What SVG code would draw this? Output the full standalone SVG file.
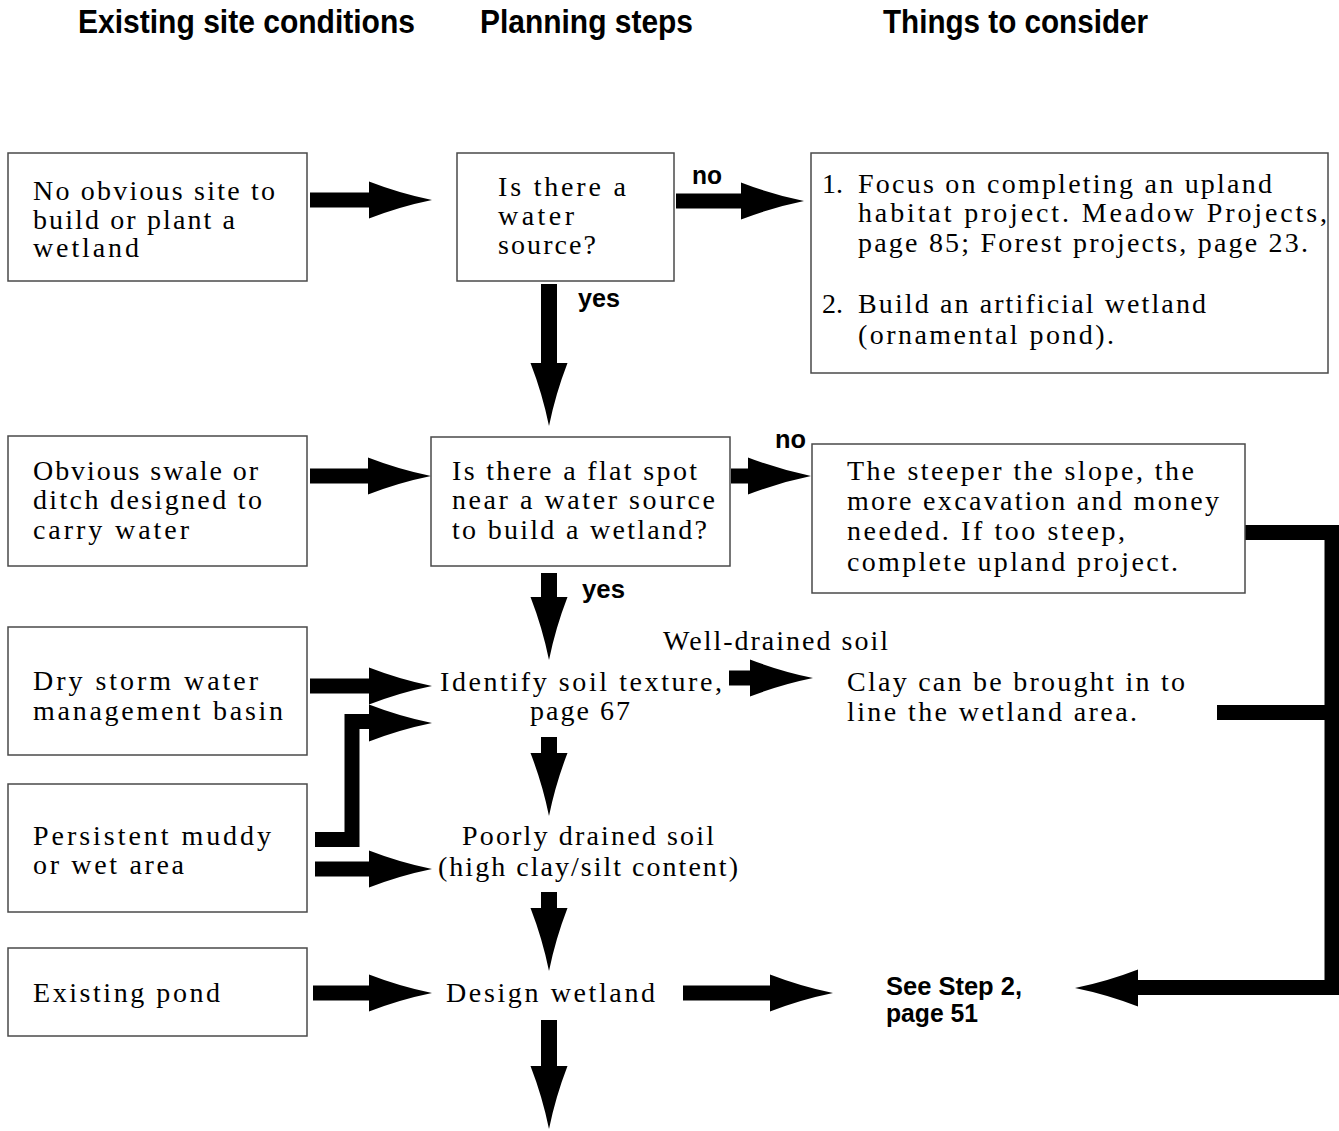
<svg xmlns="http://www.w3.org/2000/svg" width="1339" height="1131" viewBox="0 0 1339 1131">
<style>
.box{fill:#fff;stroke:#4a4a4a;stroke-width:1.5}
.t{font-family:"Liberation Serif","Times New Roman",serif;font-size:28px;fill:#000}
.h{font-family:"Liberation Sans",Arial,sans-serif;font-weight:bold;font-size:33px;fill:#000}
.b{font-family:"Liberation Sans",Arial,sans-serif;font-weight:bold;font-size:25px;fill:#000}
.ar{fill:#000}
.ln{fill:none;stroke:#000;stroke-width:15;stroke-linejoin:miter}
</style>
<defs>
<path id="hd" d="M0,-18.5 Q31,-6.5 63,0 Q31,6.5 0,18.5 Z"/>
</defs>
<rect width="1339" height="1131" fill="#fff"/>
<g id="headers">
<text class="h" x="78" y="33" textLength="337" lengthAdjust="spacingAndGlyphs">Existing site conditions</text>
<text class="h" x="480" y="33" textLength="213" lengthAdjust="spacingAndGlyphs">Planning steps</text>
<text class="h" x="883" y="33" textLength="265" lengthAdjust="spacingAndGlyphs">Things to consider</text>
</g>
<g id="connectors">
<g class="ar">
<rect x="310" y="192.5" width="60" height="15"/><use href="#hd" x="369" y="200"/>
<rect x="676" y="193.5" width="66" height="15"/><use href="#hd" x="741" y="201"/>
<rect x="310" y="468.5" width="59" height="15"/><use href="#hd" x="368" y="476"/>
<rect x="731" y="468.5" width="18" height="15"/><use href="#hd" x="748" y="476"/>
<rect x="729" y="670.5" width="22" height="15"/><use href="#hd" x="750" y="678"/>
<rect x="310" y="678.5" width="60" height="15"/><use href="#hd" x="369" y="686"/>
<rect x="315" y="861.5" width="55" height="15"/><use href="#hd" x="369" y="869"/>
<rect x="313" y="985.5" width="57" height="15"/><use href="#hd" x="369" y="993"/>
<rect x="683" y="985.5" width="88" height="15"/><use href="#hd" x="770" y="993"/>
<use href="#hd" x="369" y="723"/>
<use href="#hd" transform="translate(1138,988) rotate(180)"/>
<rect x="541" y="284" width="16" height="80"/><use href="#hd" transform="translate(549,363) rotate(90)"/>
<rect x="541" y="573" width="16" height="25"/><use href="#hd" transform="translate(549,597) rotate(90)"/>
<rect x="541" y="737" width="16" height="17"/><use href="#hd" transform="translate(549,753) rotate(90)"/>
<rect x="541" y="892" width="16" height="17"/><use href="#hd" transform="translate(549,908) rotate(90)"/>
<rect x="541" y="1020" width="16" height="49"/><use href="#hd" transform="translate(549,1066) rotate(90)"/>
</g>
<path class="ln" d="M315,839.5 H352 V721.5 H370"/>
<path class="ln" d="M1245,532.5 H1332 V987.5 H1137"/>
<path class="ln" d="M1217,712.5 H1332"/>
</g>
<g id="labels">
<text class="b" x="692" y="184" textLength="30" lengthAdjust="spacingAndGlyphs">no</text>
<text class="b" x="578" y="307" textLength="42" lengthAdjust="spacingAndGlyphs">yes</text>
<text class="b" x="775" y="448" textLength="31" lengthAdjust="spacingAndGlyphs">no</text>
<text class="b" x="582" y="598" textLength="43" lengthAdjust="spacingAndGlyphs">yes</text>
</g>
<g id="n-no-site">
<rect class="box" x="8" y="153" width="299" height="128"/>
<text class="t" x="33" y="200" textLength="242">No obvious site to</text>
<text class="t" x="33" y="229" textLength="202">build or plant a</text>
<text class="t" x="33" y="257" textLength="106">wetland</text>
</g>
<g id="n-swale">
<rect class="box" x="8" y="436" width="299" height="130"/>
<text class="t" x="33" y="480" textLength="225">Obvious swale or</text>
<text class="t" x="33" y="509" textLength="229">ditch designed to</text>
<text class="t" x="33" y="539" textLength="156">carry water</text>
</g>
<g id="n-basin">
<rect class="box" x="8" y="627" width="299" height="128"/>
<text class="t" x="33" y="690" textLength="225">Dry storm water</text>
<text class="t" x="33" y="720" textLength="250">management basin</text>
</g>
<g id="n-muddy">
<rect class="box" x="8" y="784" width="299" height="128"/>
<text class="t" x="33" y="845" textLength="238">Persistent muddy</text>
<text class="t" x="33" y="874" textLength="151">or wet area</text>
</g>
<g id="n-pond">
<rect class="box" x="8" y="948" width="299" height="88"/>
<text class="t" x="33" y="1002" textLength="187">Existing pond</text>
</g>
<g id="n-water-source">
<rect class="box" x="457" y="153" width="217" height="128"/>
<text class="t" x="498" y="196" textLength="128">Is there a</text>
<text class="t" x="498" y="225" textLength="76">water</text>
<text class="t" x="498" y="254" textLength="98">source?</text>
</g>
<g id="n-upland">
<rect class="box" x="811" y="153" width="517" height="220"/>
<text class="t" x="822" y="193">1.</text>
<text class="t" x="858" y="193" textLength="414">Focus on completing an upland</text>
<text class="t" x="858" y="222" textLength="469">habitat project. Meadow Projects,</text>
<text class="t" x="858" y="252" textLength="450">page 85; Forest projects, page 23.</text>
<text class="t" x="822" y="313">2.</text>
<text class="t" x="858" y="313" textLength="348">Build an artificial wetland</text>
<text class="t" x="858" y="344" textLength="256">(ornamental pond).</text>
</g>
<g id="n-flat-spot">
<rect class="box" x="431" y="437" width="299" height="129"/>
<text class="t" x="452" y="480" textLength="245">Is there a flat spot</text>
<text class="t" x="452" y="509" textLength="263">near a water source</text>
<text class="t" x="452" y="539" textLength="255">to build a wetland?</text>
</g>
<g id="n-steeper">
<rect class="box" x="812" y="444" width="433" height="149"/>
<text class="t" x="847" y="480" textLength="347">The steeper the slope, the</text>
<text class="t" x="847" y="510" textLength="372">more excavation and money</text>
<text class="t" x="847" y="540" textLength="278">needed.  If too steep,</text>
<text class="t" x="847" y="571" textLength="331">complete upland project.</text>
</g>
<g id="n-identify">
<text class="t" x="440" y="691" textLength="282">Identify soil texture,</text>
<text class="t" x="530" y="720" textLength="100">page 67</text>
</g>
<g id="n-well-drained">
<text class="t" x="663" y="650" textLength="225">Well-drained soil</text>
</g>
<g id="n-clay">
<text class="t" x="847" y="691" textLength="338">Clay can be brought in to</text>
<text class="t" x="847" y="721" textLength="290">line the wetland area.</text>
</g>
<g id="n-poorly">
<text class="t" x="462" y="845" textLength="252">Poorly drained soil</text>
<text class="t" x="438" y="876" textLength="300">(high clay/silt content)</text>
</g>
<g id="n-design">
<text class="t" x="446" y="1002" textLength="209">Design wetland</text>
</g>
<g id="n-step2">
<text class="b" x="886" y="995" textLength="136" lengthAdjust="spacingAndGlyphs">See Step 2,</text>
<text class="b" x="886" y="1022" textLength="92" lengthAdjust="spacingAndGlyphs">page 51</text>
</g>
</svg>
